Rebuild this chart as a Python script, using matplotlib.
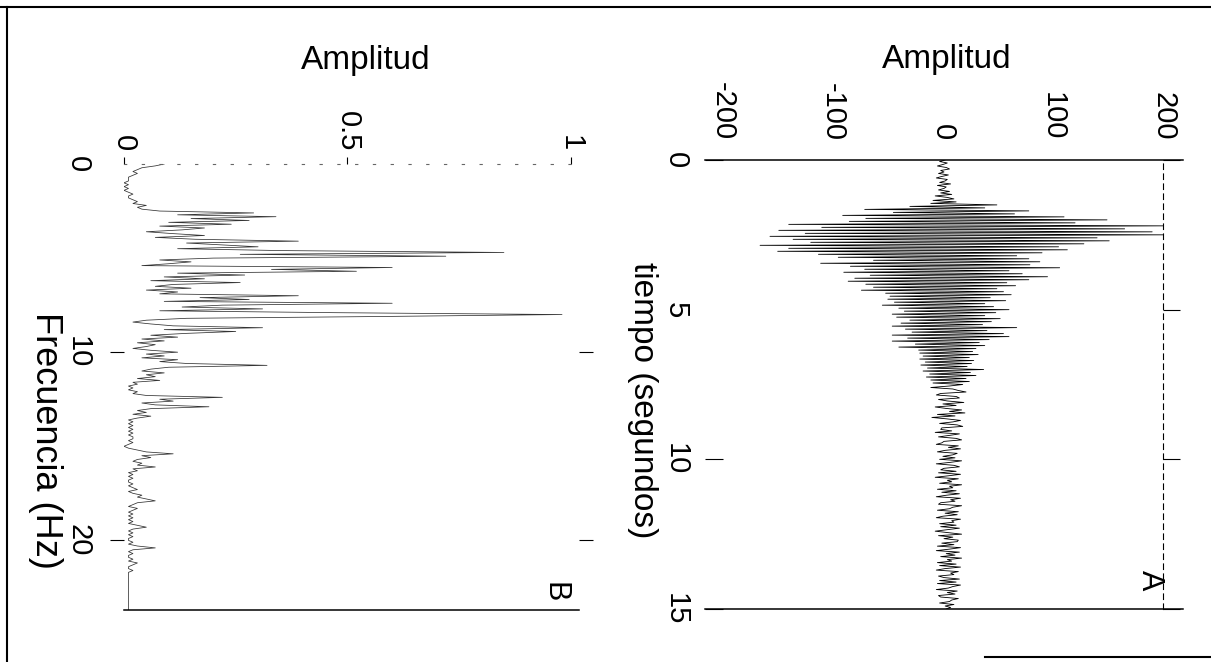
import numpy as np
import matplotlib
matplotlib.use("Agg")
import matplotlib.pyplot as plt
from matplotlib.lines import Line2D

plt.rcParams['font.family'] = ['Liberation Sans', 'DejaVu Sans']

# A: registro en el tiempo, una muestra cada 0.05 s
dt = 0.05
amplitud_a = [
    2, -3, 4, 0, -5, 3, 6, -2, 1, -4,
    5, -1, -6, 4, 2, -3, 7, -5, 3, 1,
    -4, 6, -2, 8, -7, 4, 10, -9, 12, -11,
    49, -30, 38, -71, 78, -45, 65, -91, 110, -70,
    149, -85, 120, -140, 200, -110, 165, -149, 190, -125,
    200, -157, 140, -136, 151, -120, 128, -166, 105, -140,
    113, -150, 90, -113, 67, -95, 78, -63, 88, -111,
    79, -84, 106, -71, 60, -90, 72, -66, 95, -80,
    78, -86, 58, -70, 66, -63, 49, -74, 55, -52,
    62, -48, 43, -50, 57, -44, 38, -55, 46, -40,
    60, -35, 48, -46, 38, -42, 52, -30, 44, -38,
    36, -46, 67, -34, 40, -28, 55, -46, 60, -32,
    42, -46, 33, -25, 38, -40, 30, -22, 27, -21,
    32, -18, 24, -21, 28, -16, 26, -20, 22, -14,
    37, -18, 25, -12, 30, -15, 21, -11, 24, -9,
    18, 6, -11, 9, 14, 21, -2, -6, 12, 15,
    -4, 4, 19, 0, 12, -7, 3, 17, 6, 20,
    -5, 11, -10, 4, 16, 9, -3, 13, 18, -1,
    -2, 8, -7, 15, 6, -4, 12, 17, 1, -1,
    -6, 14, 5, 16, 2, -5, 13, 9, 0, 11,
    -3, 17, 7, -6, 10, 15, 1, -2, 12, -4,
    16, 5, -7, 14, 4, 8, -3, 17, 6, 9,
    -5, 12, -1, 15, 3, -6, 16, 7, 11, -2,
    -4, 17, 9, 6, -5, 14, 2, 13, 0, -6,
    16, 8, 10, -3, 12, -2, 15, 4, -7, 5,
    17, -4, 9, 1, 14, 13, -1, 10, -5, 16,
    6, -6, 15, 3, 11, -2, 17, 4, 8, -5,
    12, -3, 16, 2, -6, 14, 7, 10, -4, 1,
    15, -3, 12, -5, 16, 9, 5, -6, 13, 4,
    11, -4, -2, 14, 8, 6, -3, 10, 2, 7,
    3,
]

# B: espectro, una muestra cada 0.1 Hz
df = 0.1
amplitud_b = [
    0.09, 0.07, 0.04, 0.03, 0.02, 0.03, 0.02, 0.01, 0.01, 0.01,
    0.00, 0.01, 0.00, 0.01, 0.00, 0.01, 0.02, 0.01, 0.01, 0.02,
    0.03, 0.02, 0.05, 0.03, 0.04, 0.08, 0.29, 0.12, 0.34, 0.15,
    0.28, 0.10, 0.24, 0.08, 0.18, 0.13, 0.05, 0.11, 0.18, 0.07,
    0.16, 0.39, 0.14, 0.22, 0.30, 0.12, 0.35, 0.85, 0.26, 0.72,
    0.20, 0.08, 0.15, 0.10, 0.04, 0.60, 0.33, 0.52, 0.12, 0.27,
    0.09, 0.18, 0.06, 0.26, 0.11, 0.07, 0.15, 0.05, 0.12, 0.08,
    0.39, 0.17, 0.28, 0.09, 0.60, 0.22, 0.13, 0.31, 0.08, 0.47,
    0.98, 0.59, 0.14, 0.05, 0.02, 0.06, 0.11, 0.31, 0.09, 0.25,
    0.14, 0.06, 0.12, 0.04, 0.09, 0.03, 0.07, 0.05, 0.02, 0.06,
    0.12, 0.05, 0.09, 0.04, 0.12, 0.08, 0.14, 0.32, 0.10, 0.06,
    0.04, 0.09, 0.05, 0.07, 0.03, 0.08, 0.02, 0.03, 0.01, 0.02,
    0.01, 0.03, 0.02, 0.05, 0.22, 0.08, 0.11, 0.04, 0.07, 0.19,
    0.06, 0.03, 0.05, 0.02, 0.06, 0.03, 0.01, 0.02, 0.01, 0.02,
    0.01, 0.02, 0.01, 0.02, 0.01, 0.02, 0.02, 0.01, 0.02, 0.01,
    0.00, 0.01, 0.03, 0.05, 0.11, 0.04, 0.06, 0.03, 0.02, 0.04,
    0.03, 0.07, 0.02, 0.03, 0.01, 0.02, 0.01, 0.02, 0.01, 0.01,
    0.02, 0.01, 0.02, 0.03, 0.01, 0.02, 0.04, 0.03, 0.05, 0.07,
    0.03, 0.02, 0.01, 0.03, 0.02, 0.01, 0.02, 0.01, 0.02, 0.01,
    0.02, 0.01, 0.03, 0.05, 0.02, 0.01, 0.02, 0.01, 0.02, 0.01,
    0.01, 0.02, 0.01, 0.03, 0.07, 0.02, 0.01, 0.02, 0.01, 0.01,
    0.02, 0.01, 0.03, 0.02, 0.01, 0.01, 0.02, 0.01, 0.01, 0.01,
    0.01, 0.01, 0.01, 0.01, 0.01, 0.01, 0.01, 0.01, 0.01, 0.01,
    0.01, 0.01, 0.01, 0.01, 0.01, 0.01, 0.01, 0.01,
]

ticks_tiempo = [0, 5, 10, 15]
ticks_amp_a = [-200, -100, 0, 100, 200]
ticks_frec = [0, 10, 20]
ticks_amp_b = [0, 0.5, 1]
labels_amp_b = ['0', '0.5', '1']

W, H = 1211, 662
fig = plt.figure(figsize=(W / 100, H / 100), dpi=100)


def box(l, t, r, b):
    # pixel box -> figure fraction
    return [l / W, 1 - b / H, (r - l) / W, (b - t) / H]


# marco exterior (solo se ve arriba, a la izquierda y un trozo abajo)
for xs, ys in [((0, W), (7, 7)), ((7, 7), (7, H)), ((985, W), (657, 657))]:
    fig.add_artist(Line2D([x / W for x in xs], [1 - y / H for y in ys],
                          color='k', lw=1.5))

# ---------------- panel A ----------------
axA = fig.add_axes(box(705, 160, 1183, 609))
t = np.arange(len(amplitud_a)) * dt
axA.plot(amplitud_a, t, color='k', lw=0.6)
axA.set_xlim(-216, 218)
axA.set_ylim(15, 0)

for s in ['left', 'right']:
    axA.spines[s].set_visible(False)
for s in ['top', 'bottom']:
    axA.spines[s].set_linewidth(1.1)

axA.xaxis.tick_top()
axA.set_xticks(ticks_amp_a)
axA.set_xticklabels([str(v) for v in ticks_amp_a], rotation=-90, va='bottom')
axA.tick_params(axis='x', length=0, pad=14, labelsize=21)
axA.set_yticks(ticks_tiempo)
axA.set_yticklabels([str(v) for v in ticks_tiempo], rotation=-90, va='center')
axA.tick_params(axis='y', direction='in', length=13, pad=11, labelsize=21)
axA.yaxis.get_major_ticks()[1].tick1line.set_visible(False)

# linea vertical a trazos en 200 con sus marcas hacia fuera
xmin, xmax = axA.get_xlim()
sec = axA.secondary_yaxis((200 - xmin) / (xmax - xmin))
sec.set_yticks(ticks_tiempo)
sec.tick_params(direction='out', length=12, width=0.8, labelright=False)
sec.spines['right'].set_linestyle((0, (5, 4)))
sec.spines['right'].set_linewidth(0.8)

axA.xaxis.set_label_position('top')
axA.set_xlabel('Amplitud', fontsize=24)
axA.xaxis.set_label_coords(0.506, 1.223)
axA.xaxis.label.set_va('center')
axA.set_ylabel('tiempo (segundos)', fontsize=24, rotation=-90)
axA.yaxis.set_label_coords(-0.13, 0.465)
axA.yaxis.label.set_va('center')
axA.yaxis.label.set_ha('center')
axA.text(0.931, 0.065, 'A', transform=axA.transAxes, rotation=-90,
         fontsize=22, ha='center', va='center')

# ---------------- panel B ----------------
axB = fig.add_axes(box(124, 164, 579, 610))
f = np.arange(len(amplitud_b)) * df
axB.plot(amplitud_b, f, color='#333333', lw=0.55)
axB.set_xlim(0, 1.018)
axB.set_ylim(23.7, 0)

for s in ['left', 'right']:
    axB.spines[s].set_visible(False)
axB.spines['bottom'].set_linewidth(1.1)
axB.spines['top'].set_linestyle((0, (2, 14)))
axB.spines['top'].set_linewidth(0.8)
axB.spines['top'].set_color('#666666')

axB.xaxis.tick_top()
axB.set_xticks(ticks_amp_b)
axB.set_xticklabels(labels_amp_b, rotation=-90, va='bottom')
axB.tick_params(axis='x', direction='out', length=5, width=0.8, pad=4, labelsize=21)
axB.set_yticks(ticks_frec)
axB.set_yticklabels([str(v) for v in ticks_frec], rotation=-90, va='center')
axB.tick_params(axis='y', left=True, right=True, direction='out', length=10,
                width=0.8, pad=13, labelsize=21)
axB.yaxis.get_major_ticks()[0].tick1line.set_visible(False)
axB.yaxis.get_major_ticks()[0].tick2line.set_visible(False)

axB.xaxis.set_label_position('top')
axB.set_xlabel('Amplitud', fontsize=24)
axB.xaxis.set_label_coords(0.532, 1.233)
axB.xaxis.label.set_va('center')
axB.set_ylabel('Frecuencia (Hz)', fontsize=26, rotation=-90)
axB.yaxis.set_label_coords(-0.172, 0.381)
axB.yaxis.label.set_va('center')
axB.yaxis.label.set_ha('center')
axB.text(0.947, 0.040, 'B', transform=axB.transAxes, rotation=-90,
         fontsize=22, ha='center', va='center')

fig.savefig('out.png', dpi=100)
